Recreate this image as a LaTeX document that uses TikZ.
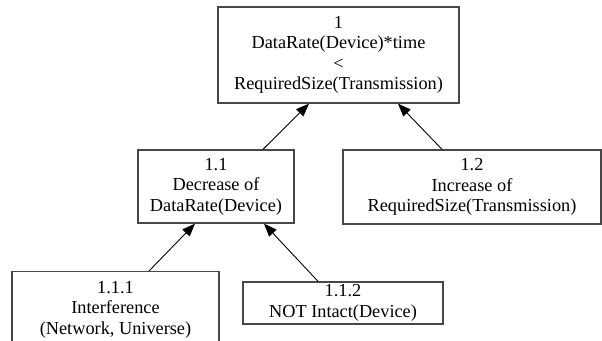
\documentclass[tikz,border=0pt]{standalone}
\usepackage{fontspec}
\setmainfont{Liberation Serif}
\newfontfamily\tmsfont{Liberation Serif}
\usetikzlibrary{arrows.meta}
\begin{document}
\begin{tikzpicture}[x=1pt,y=-1pt,
  box/.style={draw=black!72, line width=1.3pt, inner sep=0pt, align=center,
    font=\tmsfont\fontsize{18.3}{20.5}\selectfont},
  arr/.style={-{Triangle[length=13pt,width=10pt]}, line width=0.9pt, black}]
\useasboundingbox (0,0) rectangle (602,340);
\clip (0,0) rectangle (602,340);
\fill[white] (0,0) rectangle (602,340);
\node[box, minimum width=241pt, minimum height=96pt] (b1) at (338.5,55)
  {1\\DataRate(Device)*time\\<\\RequiredSize(Transmission)};
\node[box, minimum width=156pt, minimum height=73pt] (b11) at (216,186.5)
  {1.1\\Decrease of\\DataRate(Device)};
\node[box, minimum width=258pt, minimum height=74pt] (b12) at (472,187)
  {1.2\\Increase of\\RequiredSize(Transmission)};
\node[box, minimum width=207pt, minimum height=76pt, anchor=north] (b111) at (115.5,271)
  {1.1.1\\Interference\\(Network, Universe)};
\node[box, minimum width=200pt, minimum height=42pt] (b112) at (343,303)
  {1.1.2\\NOT Intact(Device)};
\draw[arr] (263,0 |- b11.north) -- (309,0 |- b1.south);
\draw[arr] (442,0 |- b12.north) -- (398,0 |- b1.south);
\draw[arr] (149,0 |- b111.north) -- (195,0 |- b11.south);
\draw[arr] (318,0 |- b112.north) -- (264,0 |- b11.south);
\end{tikzpicture}
\end{document}
